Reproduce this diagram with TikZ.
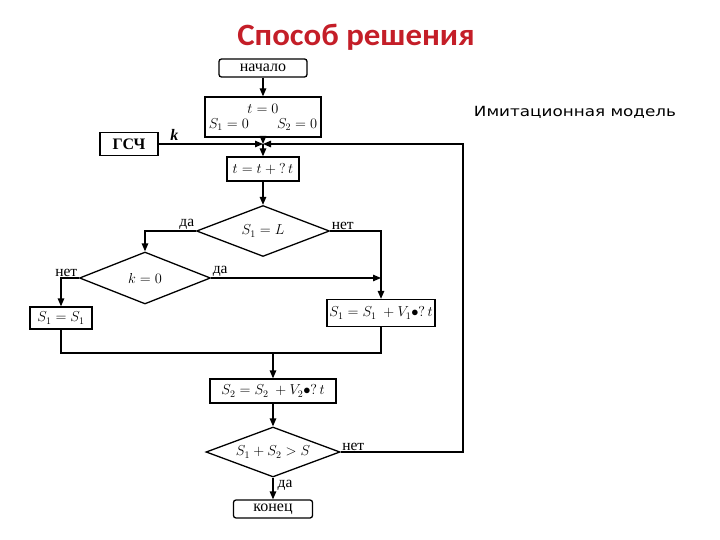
\documentclass[tikz,border=0pt]{standalone}
\usepackage{fontspec}
\setmainfont{Liberation Serif}
\newfontfamily\titlefont[FakeStretch=1.06]{Carlito}
\newfontfamily\notefont[FakeStretch=1.2]{DejaVu Sans}
\usetikzlibrary{positioning, shapes.geometric, arrows.meta, calc}
\definecolor{titlered}{RGB}{196,30,40}

\begin{document}
\begin{tikzpicture}[x=1pt, y=-1pt, >={Triangle[length=8pt, width=6.5pt]}, line width=1.3pt,
    font=\fontsize{14}{17}\selectfont,
    block/.style={draw, rectangle, inner sep=1pt},
    term/.style={block, rounded corners=2.5pt, font=\fontsize{16}{19}\selectfont},
    cond/.style={draw, diamond, aspect=2.6, inner sep=0pt},
    tag/.style={inner sep=1pt, font=\fontsize{15.5}{18}\selectfont}]
        \useasboundingbox (0,0) rectangle (720,540);

        % Headings
        \node [text=titlered, font=\titlefont\bfseries\fontsize{31}{36}\selectfont] (title) at (356,37) {Способ решения};
        \node [font=\notefont\fontsize{14}{17}\selectfont] (note) at (575,112) {Имитационная модель};

        % Nodes
        \node [term, minimum width=88, minimum height=18] (start) at (263,68) {начало};
        \node [block, minimum width=116, minimum height=40, align=center] (init) at (263,117)
              {$t = 0$\\[-2pt] $S_1 = 0$\qquad$S_2 = 0$};
        \node [block, minimum width=58, minimum height=23, font=\bfseries\fontsize{16}{19}\selectfont] (rng) at (129,144) {ГСЧ};
        \coordinate (j) at (263,144);
        \node [block, minimum width=72, minimum height=24] (tick) at (263,169) {$t = t + {?}\,t$};
        \node [cond, minimum width=133, minimum height=51] (cmpL) at (263,231) {$S_1 = L$};
        \node [cond, minimum width=131, minimum height=52] (cmpK) at (145,278) {$k = 0$};
        \node [block, minimum width=62, minimum height=22] (keep) at (61,318) {$S_1 = S_1$};
        \node [block, minimum width=108, minimum height=27] (move1) at (381,313) {$S_1 = S_1\ + V_1{\bullet}{?}\,t$};
        \coordinate (merge) at (273,353);
        \node [block, minimum width=126, minimum height=24] (move2) at (273,391) {$S_2 = S_2\ + V_2{\bullet}{?}\,t$};
        \node [cond, minimum width=134, minimum height=50] (cmpS) at (273,452) {$S_1 + S_2 > S$};
        \node [term, minimum width=79, minimum height=18] (stop) at (273,509) {конец};
        \coordinate (back) at (463,452);

        % Edges
        \draw[->] (start) -- (init);
        \draw[->] (init) -- (j);
        \draw[->] (rng) -- node[pos=0.15, above, font=\bfseries\itshape\fontsize{16}{19}\selectfont] {k} (j);
        \draw[->] (j) -- (tick);
        \draw[->] (tick) -- (cmpL);
        \draw[->] (cmpL.west) -| node[pos=0, above left, tag] {да} (cmpK.north);
        \draw[->] (cmpL.east) -| node[pos=0, above right, tag] {нет} (move1.north);
        \draw[->] (cmpK.west) -| node[pos=0, above left, tag] {нет} (keep.north);
        \draw[->] (cmpK.east) -- node[pos=0, above right, tag] {да} (cmpK.east -| move1.north);
        \draw (keep) |- (merge) -| (move1);
        \draw[->] (merge) -- (move2);
        \draw[->] (move2) -- (cmpS);
        \draw[->] (cmpS) -- node[pos=0.35, right=3pt, tag] {да} (stop);
        \draw[->] (cmpS.east) -- node[pos=0, above right, tag] {нет} (back) |- (j);

      \end{tikzpicture}
\end{document}
